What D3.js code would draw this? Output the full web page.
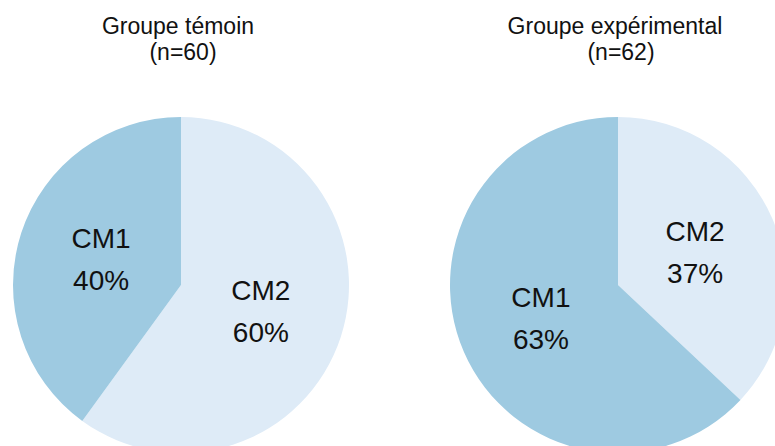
<!DOCTYPE html>
<html>
<head>
<meta charset="utf-8">
<script src="https://cdn.jsdelivr.net/npm/d3@7"></script>
<style>
  html, body { margin: 0; padding: 0; background: #fff; }
  svg { display: block; }
  text { font-family: "Liberation Sans", Arial, sans-serif; fill: #111; }
</style>
</head>
<body>
<svg id="chart" width="775" height="446"></svg>
<script>
// Répartition des élèves par niveau (CM1 / CM2), en pourcentage
const groups = ["Groupe témoin", "Groupe expérimental"];
const groupSizes = [60, 62];
const categories = ["CM2", "CM1"];
const temoinValues = [60, 40];
const experimentalValues = [37, 63];

const colors = { CM1: "#9ecae1", CM2: "#deebf7" };

const width = 775, height = 446;
const radius = 168;
const centersX = [181, 618];
const centerY = 285;
const titleDx = [[-3, 2], [-3, 3]];

const svg = d3.select("#chart");

const pie = d3.pie().sort(null).value(d => d.value);
const arc = d3.arc().innerRadius(0).outerRadius(radius);
const labelArc = d3.arc().innerRadius(radius * 0.5).outerRadius(radius * 0.5);

const series = [temoinValues, experimentalValues];

series.forEach((vals, gi) => {
  const data = categories.map((c, i) => ({ cat: c, value: vals[i] }));
  const g = svg.append("g").attr("transform", `translate(${centersX[gi]},${centerY})`);

  const arcs = pie(data);

  g.selectAll("path")
    .data(arcs)
    .join("path")
    .attr("d", arc)
    .attr("fill", d => colors[d.data.cat]);

  const labels = g.selectAll("text.lbl")
    .data(arcs)
    .join("text")
    .attr("class", "lbl")
    .attr("text-anchor", "middle")
    .attr("font-size", 28)
    .attr("transform", d => {
      const [x, y] = labelArc.centroid(d);
      return `translate(${x},${y})`;
    });
  labels.append("tspan").attr("x", 0).attr("y", -11).text(d => d.data.cat);
  labels.append("tspan").attr("x", 0).attr("y", 31).text(d => d.data.value + "%");

  // Titre du groupe
  const title = svg.append("text")
    .attr("text-anchor", "middle")
    .attr("font-size", 23);
  title.append("tspan")
    .attr("x", centersX[gi] + titleDx[gi][0]).attr("y", 34)
    .text(groups[gi]);
  title.append("tspan")
    .attr("x", centersX[gi] + titleDx[gi][1]).attr("y", 60)
    .text(`(n=${groupSizes[gi]})`);
});
</script>
</body>
</html>
